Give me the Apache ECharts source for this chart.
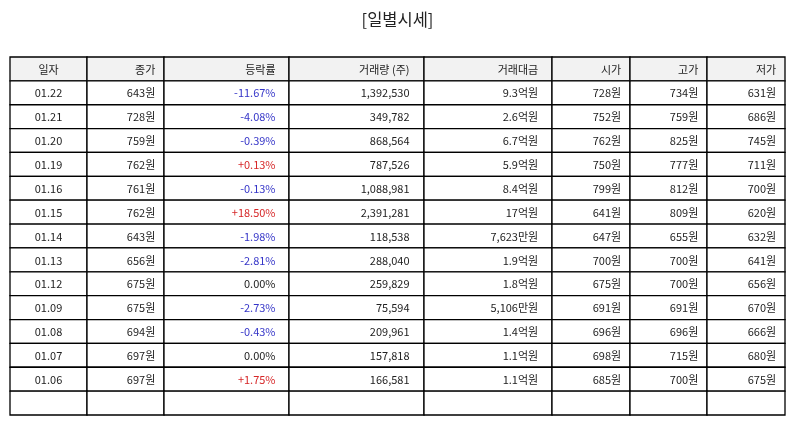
<!DOCTYPE html>
<html>
<head>
<meta charset="utf-8">
<script src="https://cdn.jsdelivr.net/npm/echarts@6/dist/echarts.min.js"></script>
<style>
  html, body { margin: 0; padding: 0; background: #fff; }
  #chart { width: 795px; height: 425px; }
</style>
</head>
<body>
<div id="chart"></div>
<script>
var headers = ['일자', '종가', '등락률', '거래량 (주)', '거래대금', '시가', '고가', '저가'];
var dates = ['01.22', '01.21', '01.20', '01.19', '01.16', '01.15', '01.14', '01.13', '01.12', '01.09', '01.08', '01.07', '01.06'];
var closePrice = [643, 728, 759, 762, 761, 762, 643, 656, 675, 675, 694, 697, 697];
var changeRate = [-11.67, -4.08, -0.39, 0.13, -0.13, 18.50, -1.98, -2.81, 0.00, -2.73, -0.43, 0.00, 1.75];
var volume = [1392530, 349782, 868564, 787526, 1088981, 2391281, 118538, 288040, 259829, 75594, 209961, 157818, 166581];
var amount = ['9.3억원', '2.6억원', '6.7억원', '5.9억원', '8.4억원', '17억원', '7,623만원', '1.9억원', '1.8억원', '5,106만원', '1.4억원', '1.1억원', '1.1억원'];
var openPrice = [728, 752, 762, 750, 799, 641, 647, 700, 675, 691, 696, 698, 685];
var highPrice = [734, 759, 825, 777, 812, 809, 655, 700, 700, 691, 696, 715, 700];
var lowPrice = [631, 686, 745, 711, 700, 620, 632, 641, 656, 670, 666, 680, 675];

// column edges on the x value axis (layout)
var colEdges = [0, 77, 154, 279, 414, 542, 620, 697, 775];

function won(v) { return v + '원'; }
function pct(v) {
    var s = v.toFixed(2) + '%';
    return v > 0 ? '+' + s : s;
}
function pctColor(v) {
    if (v > 0) return '#d62728';
    if (v < 0) return '#3535c8';
    return '#222';
}

var rowCount = dates.length + 2; // header + data + empty row
var rowNames = [];
for (var r = 0; r < rowCount; r++) rowNames.push('r' + r);

var cells = [];
headers.forEach(function (h, c) {
    cells.push([c, 0, h, '#222', 1]);
});
dates.forEach(function (d, i) {
    var row = i + 1;
    cells.push([0, row, d, '#222', 0]);
    cells.push([1, row, won(closePrice[i]), '#222', 0]);
    cells.push([2, row, pct(changeRate[i]), pctColor(changeRate[i]), 0]);
    cells.push([3, row, volume[i].toLocaleString('en-US'), '#222', 0]);
    cells.push([4, row, amount[i], '#222', 0]);
    cells.push([5, row, won(openPrice[i]), '#222', 0]);
    cells.push([6, row, won(highPrice[i]), '#222', 0]);
    cells.push([7, row, won(lowPrice[i]), '#222', 0]);
});
headers.forEach(function (h, c) {
    cells.push([c, rowCount - 1, '', '#222', 0]);
});

var chart = echarts.init(document.getElementById('chart'));
chart.setOption({
    animation: false,
    title: {
        text: '[일별시세]',
        left: 'center',
        top: 6,
        textStyle: { fontFamily: 'Noto Sans CJK KR', fontSize: 16.5, fontWeight: 'normal', color: '#222' }
    },
    grid: { left: 10, right: 10, top: 57, bottom: 10 },
    xAxis: { type: 'value', min: 0, max: 775, show: false },
    yAxis: { type: 'category', data: rowNames, inverse: true, show: false },
    series: [{
        type: 'custom',
        data: cells,
        encode: { x: 0, y: 1 },
        renderItem: function (params, api) {
            var c = api.value(0);
            var row = api.value(1);
            var cell = cells[params.dataIndex];
            var x0 = api.coord([colEdges[c], row])[0];
            var x1 = api.coord([colEdges[c + 1], row])[0];
            var yc = api.coord([0, row])[1];
            var h = api.size([0, 1])[1];
            var y0 = yc - h / 2;
            var isHeader = cell[4] === 1;
            // cell padding is a tenth of the column width
            var tx = c === 0 ? (x0 + x1) / 2 : x1 - (x1 - x0) * 0.1 - 1;
            return {
                type: 'group',
                children: [{
                    type: 'rect',
                    shape: { x: x0, y: y0, width: x1 - x0, height: h },
                    style: { fill: isHeader ? '#f2f2f2' : '#fff', stroke: '#000', lineWidth: 1.3 }
                }, {
                    type: 'text',
                    style: {
                        x: tx,
                        y: yc + 0.5,
                        text: cell[2],
                        fill: cell[3],
                        font: '11px "Noto Sans CJK KR"',
                        align: c === 0 ? 'center' : 'right',
                        verticalAlign: 'middle'
                    }
                }]
            };
        }
    }]
});
</script>
</body>
</html>
